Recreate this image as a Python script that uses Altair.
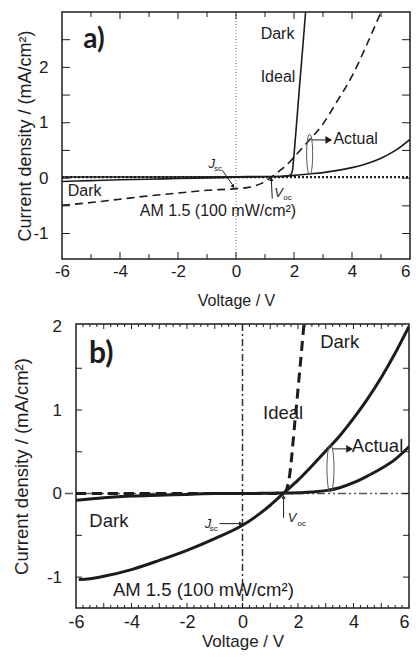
import altair as alt
import pandas as pd

FONT = "Liberation Sans"
INK = "#1c1c1c"

# ---------------- panel a data ----------------
a_dark_ideal_v = [-6.0, -3.0, 0.0, 1.0, 1.5, 1.8, 1.9, 1.95, 2.0, 2.1, 2.2, 2.3, 2.4]
a_dark_ideal_j = [0.02, 0.02, 0.025, 0.03, 0.03, 0.04, 0.07, 0.15, 0.42, 1.06, 1.72, 2.35, 3.0]
a_dark_actual_v = [-6, -5, -4, -3, -2, -1, 0, 1, 1.5, 2, 2.5, 3, 3.5, 4, 4.5, 5, 5.5, 6]
a_dark_actual_j = [-0.06, -0.045, -0.03, -0.02, -0.005, 0.005, 0.015, 0.025, 0.03, 0.05,
                   0.075, 0.1, 0.14, 0.19, 0.26, 0.36, 0.5, 0.7]
a_am_v = [-6, -5, -4, -3, -2, -1, 0, 0.5, 0.9, 1.25, 1.5, 1.75, 2.0, 2.5, 3.0, 3.5, 4.0, 4.5, 5.0]
a_am_j = [-0.49, -0.44, -0.38, -0.32, -0.27, -0.22, -0.19, -0.16, -0.09, 0.03, 0.13, 0.24,
          0.38, 0.67, 0.98, 1.4, 1.84, 2.4, 3.0]
a_dotted_v = [-6, 6]
a_dotted_j = [0.02, 0.02]
a_vline_v = [0]

a_xlabels = [-6, -4, -2, 0, 2, 4, 6]
a_ylabels = [-1, 0, 1, 2]
a_xticks_major = [-4, -2, 0, 2, 4]
a_xticks_minor = [-5, -3, -1, 1, 3, 5]
a_yticks = [-1, -0.5, 0, 0.5, 1, 1.5, 2, 2.5]

a_note_text = ["Dark", "Ideal", "Actual", "Dark", "AM 1.5 (100 mW/cm²)"]
a_note_v = [0.85, 0.85, 3.36, -5.80, -3.32]
a_note_j = [2.61, 1.82, 0.70, -0.23, -0.59]
a_sym_text = ["J", "V"]
a_sym_v = [-0.95, 1.32]
a_sym_j = [0.25, -0.27]
a_sub_text = ["sc", "oc"]
a_sub_v = [-0.76, 1.63]
a_sub_j = [0.16, -0.35]
a_tag_text = ["a)"]
a_tag_v = [-4.9]
a_tag_j = [2.5]
a_arrow_v0 = [2.61, -0.47, 1.25]
a_arrow_v1 = [3.12, -0.12, 1.22]
a_arrow_j0 = [0.69, 0.14, -0.37]
a_arrow_j1 = [0.69, -0.12, -0.04]
a_head_v = [3.2, -0.1, 1.22]
a_head_j = [0.69, -0.15, -0.02]
a_head_angle = [0, 55, 270]
a_head_size = [60, 18, 18]
a_ell_v = [2.54]
a_ell_j = [0.43]
a_ell_h = [40]

# ---------------- panel b data ----------------
b_am_v = [-5.9, -5.5, -5, -4, -3, -2, -1, 0, 0.5, 1, 1.5, 2, 2.5, 3, 3.5, 4, 4.5, 5, 5.5, 6]
b_am_j = [-1.03, -1.02, -0.99, -0.91, -0.80, -0.68, -0.54, -0.38, -0.27, -0.14, 0.01, 0.16,
          0.33, 0.51, 0.69, 0.9, 1.13, 1.39, 1.68, 2.0]
b_dark_actual_v = [-6, -5, -4, -3, -2, -1, 0, 1, 2, 2.5, 3, 3.5, 4, 4.5, 5, 5.5, 6]
b_dark_actual_j = [-0.08, -0.05, -0.03, -0.02, -0.01, 0, 0, 0.005, 0.01, 0.02, 0.035, 0.07,
                   0.13, 0.21, 0.3, 0.41, 0.56]
b_ideal_v = [-6, 1.0, 1.5, 1.67, 1.9, 2.22]
b_ideal_j = [0.0, 0.0, 0.01, 0.16, 0.9, 2.05]
b_vline_v = [0]
b_hline_j = [0]

b_xlabels = [-6, -4, -2, 0, 2, 4, 6]
b_ylabels = [-1, 0, 1, 2]
b_xticks_major = [-5, -4, -3, -2, -1, 0, 1, 2, 3, 4, 5]
b_xticks_minor = [q / 4 for q in range(-23, 24) if q % 4 != 0]
b_yticks = [-1, -0.5, 0, 0.5, 1, 1.5]

b_note_text = ["Dark", "Ideal", "Actual", "Dark", "AM 1.5 (100 mW/cm²)"]
b_note_v = [2.80, 0.74, 3.94, -5.52, -4.67]
b_note_j = [1.81, 0.97, 0.57, -0.325, -1.16]
b_sym_text = ["J", "V"]
b_sym_v = [-1.36, 1.63]
b_sym_j = [-0.36, -0.29]
b_sub_text = ["sc", "oc"]
b_sub_v = [-1.18, 1.98]
b_sub_j = [-0.42, -0.37]
b_tag_text = ["b)"]
b_tag_v = [-5.09]
b_tag_j = [1.675]
b_arrow_v0 = [3.23, -0.83, 1.48]
b_arrow_v1 = [3.78, -0.12, 1.48]
b_arrow_j0 = [0.535, -0.36, -0.29]
b_arrow_j1 = [0.535, -0.36, -0.06]
b_head_v = [3.86, -0.06, 1.48]
b_head_j = [0.535, -0.36, -0.04]
b_head_angle = [0, 0, 270]
b_head_size = [60, 18, 18]
b_ell_v = [3.17]
b_ell_j = [0.30]
b_ell_h = [47]

ELLIPSE = "M0,-1 C0.2,-1 0.2,1 0,1 C-0.2,1 -0.2,-1 0,-1 Z"
LABEL_EXPR = "datum.value < 0 ? '-' + abs(datum.value) : '' + datum.value"
YTITLE = "Current density / (mA/cm²)"
X_ALIGN = {"condition": {"test": "datum.value == 6", "value": "right"}, "value": "center"}


def build_panel(P):
    W, H, X0 = P["w"], P["h"], P["x0"]
    xs = alt.Scale(domain=[-6, 6], range=[X0, W], nice=False, zero=False)
    ys = alt.Scale(domain=P["ydom"], nice=False, zero=False)
    xaxis = alt.Axis(values=P["xlabels"], title="Voltage / V", ticks=False, domain=False,
                     grid=False, tickSize=0, labelFlush=False, labelOverlap=False,
                     labelFont=FONT, labelFontSize=P["xlab_fs"], labelColor=INK,
                     labelPadding=P["xlab_pad"], labelExpr=LABEL_EXPR, labelAlign=X_ALIGN,
                     titleFont=FONT, titleFontSize=P["xtitle_fs"], titleFontWeight="normal",
                     titleColor=INK, titlePadding=P["xtitle_pad"])
    yaxis = alt.Axis(values=P["ylabels"], title=YTITLE, ticks=False, domain=False,
                     grid=False, tickSize=0, labelFlush=False, labelOverlap=False,
                     labelFont=FONT, labelFontSize=P["ylab_fs"], labelColor=INK,
                     labelPadding=P["ylab_pad"], labelExpr=LABEL_EXPR,
                     titleFont=FONT, titleFontSize=P["ytitle_fs"], titleFontWeight="normal",
                     titleColor=INK, titlePadding=P["ytitle_pad"], offset=-X0)

    def X(f):
        return alt.X(f, type="quantitative", scale=xs, axis=xaxis)

    def Y(f):
        return alt.Y(f, type="quantitative", scale=ys, axis=yaxis)

    layers = []
    fdf = pd.DataFrame({"x": [-6], "x2": [6], "y": [P["ydom"][0]], "y2": [P["ydom"][1]]})
    layers.append(alt.Chart(fdf).mark_rect(fillOpacity=0, stroke=INK, strokeWidth=1.5).encode(
        x=X("x"), x2="x2:Q", y=Y("y"), y2="y2:Q"))

    # reference lines
    for rl in P["rules"]:
        df = pd.DataFrame({"p": rl["vals"]})
        m = alt.Chart(df).mark_rule(color=rl["color"], strokeWidth=rl["width"],
                                    strokeDash=rl["dash"])
        if rl["dir"] == "v":
            layers.append(m.encode(x=X("p")))
        else:
            layers.append(m.encode(y=Y("p")))

    # data curves
    for s in P["series"]:
        df = pd.DataFrame({"v": s["v"], "j": s["j"]})
        kw = dict(color=INK, strokeWidth=s["width"], clip=True, interpolate="monotone",
                  strokeCap="butt", strokeJoin="round")
        if s["dash"]:
            kw["strokeDash"] = s["dash"]
        layers.append(alt.Chart(df).mark_line(**kw).encode(x=X("v"), y=Y("j")))

    # inward ticks
    for vals, side, ln in P["ticks"]:
        df = pd.DataFrame({"p": vals})
        m = alt.Chart(df).mark_rule(color=INK, strokeWidth=1)
        if side == "bottom":
            enc = dict(x=X("p"), y=alt.value(H), y2=alt.value(H - ln))
        elif side == "top":
            enc = dict(x=X("p"), y=alt.value(0), y2=alt.value(ln))
        elif side == "left":
            enc = dict(y=Y("p"), x=alt.value(X0), x2=alt.value(X0 + ln))
        else:
            enc = dict(y=Y("p"), x=alt.value(W), x2=alt.value(W - ln))
        layers.append(m.encode(**enc))

    # text annotations
    for t in P["texts"]:
        df = pd.DataFrame({"t": t["text"], "v": t["v"], "j": t["j"]})
        layers.append(alt.Chart(df).mark_text(
            align=t["align"], baseline="middle", font=t["font"], fontSize=t["size"],
            fontStyle=t["style"], fontWeight=t["weight"], color=INK).encode(
            x=X("v"), y=Y("j"), text="t:N"))

    # arrows
    adf = pd.DataFrame({"v0": P["arrow"][0], "v1": P["arrow"][1],
                        "j0": P["arrow"][2], "j1": P["arrow"][3]})
    layers.append(alt.Chart(adf).mark_rule(color=INK, strokeWidth=1).encode(
        x=X("v0"), x2="v1:Q", y=Y("j0"), y2="j1:Q"))
    hdf = pd.DataFrame({"v": P["head"][0], "j": P["head"][1],
                        "a": P["head"][2], "s": P["head"][3]})
    layers.append(alt.Chart(hdf).mark_point(shape="triangle-right", filled=True, opacity=1,
                                            color=INK).encode(
        x=X("v"), y=Y("j"), angle=alt.Angle("a:Q", scale=None),
        size=alt.Size("s:Q", scale=None)))

    # ellipse
    edf = pd.DataFrame({"v": P["ell"][0], "j": P["ell"][1], "s": [h * h for h in P["ell"][2]]})
    layers.append(alt.Chart(edf).mark_point(shape=ELLIPSE, filled=False, opacity=1,
                                            color="#555555", strokeWidth=1).encode(
        x=X("v"), y=Y("j"), size=alt.Size("s:Q", scale=None)))

    return alt.layer(*layers).properties(width=W, height=H)


def txt(text, v, j, size, align="left", style="normal", weight="normal", font=FONT):
    return dict(text=text, v=v, j=j, size=size, align=align, style=style, weight=weight, font=font)


PA = dict(
    w=348, h=247, x0=0, ydom=[-1.46, 3.0],
    xlabels=a_xlabels, ylabels=a_ylabels,
    xlab_fs=17, xlab_pad=4, xtitle_fs=16, xtitle_pad=13,
    ylab_fs=17, ylab_pad=14, ytitle_fs=18, ytitle_pad=-2,
    rules=[dict(vals=a_vline_v, dir="v", color="#666666", width=1, dash=[1, 2])],
    series=[
        dict(v=a_dotted_v, j=a_dotted_j, width=2.2, dash=[2, 2]),
        dict(v=a_dark_actual_v, j=a_dark_actual_j, width=1.6, dash=None),
        dict(v=a_dark_ideal_v, j=a_dark_ideal_j, width=1.6, dash=None),
        dict(v=a_am_v, j=a_am_j, width=1.6, dash=[8, 5]),
    ],
    ticks=[(a_xticks_major, "bottom", 7), (a_xticks_minor, "bottom", 5),
           (a_xticks_major, "top", 7), (a_xticks_minor, "top", 5),
           (a_yticks, "left", 8), (a_yticks, "right", 8)],
    texts=[
        txt(a_note_text, a_note_v, a_note_j, 16),
        txt(a_sym_text, a_sym_v, a_sym_j, 13, style="italic"),
        txt(a_sub_text, a_sub_v, a_sub_j, 8),
        txt(a_tag_text, a_tag_v, a_tag_j, 28, align="center", weight="bold", font="Lato"),
    ],
    arrow=(a_arrow_v0, a_arrow_v1, a_arrow_j0, a_arrow_j1),
    head=(a_head_v, a_head_j, a_head_angle, a_head_size),
    ell=(a_ell_v, a_ell_j, a_ell_h),
)

PB = dict(
    w=347, h=284, x0=14, ydom=[-1.37, 2.03],
    xlabels=b_xlabels, ylabels=b_ylabels,
    xlab_fs=18, xlab_pad=5, xtitle_fs=17, xtitle_pad=2,
    ylab_fs=17, ylab_pad=14.5, ytitle_fs=18.5, ytitle_pad=15,
    rules=[dict(vals=b_vline_v, dir="v", color="#333333", width=1.5, dash=[7, 3, 2, 3]),
           dict(vals=b_hline_j, dir="h", color="#555555", width=1.5, dash=[8, 3, 2, 3, 2, 3])],
    series=[
        dict(v=b_dark_actual_v, j=b_dark_actual_j, width=3, dash=None),
        dict(v=b_am_v, j=b_am_j, width=3, dash=None),
        dict(v=b_ideal_v, j=b_ideal_j, width=3, dash=[10, 6]),
    ],
    ticks=[(b_xticks_major, "bottom", 5), (b_xticks_minor, "bottom", 3),
           (b_xticks_major, "top", 5), (b_xticks_minor, "top", 3),
           (b_yticks, "left", 6), (b_yticks, "right", 6)],
    texts=[
        txt(b_note_text, b_note_v, b_note_j, 18.5),
        txt(b_sym_text, b_sym_v, b_sym_j, 13, style="italic"),
        txt(b_sub_text, b_sub_v, b_sub_j, 8),
        txt(b_tag_text, b_tag_v, b_tag_j, 30, align="center", weight="bold", font="Lato"),
    ],
    arrow=(b_arrow_v0, b_arrow_v1, b_arrow_j0, b_arrow_j1),
    head=(b_head_v, b_head_j, b_head_angle, b_head_size),
    ell=(b_ell_v, b_ell_j, b_ell_h),
)

panel_a = build_panel(PA)
panel_b = build_panel(PB)

chart = alt.vconcat(panel_a, panel_b, spacing=65, bounds="flush").properties(
    autosize=alt.AutoSizeParams(type="none"),
    padding={"left": 54, "top": 4, "right": 349, "bottom": 639},
).configure(font=FONT).configure_view(strokeWidth=0)

chart.save("out.html", embed_options={"renderer": "svg", "actions": False})
